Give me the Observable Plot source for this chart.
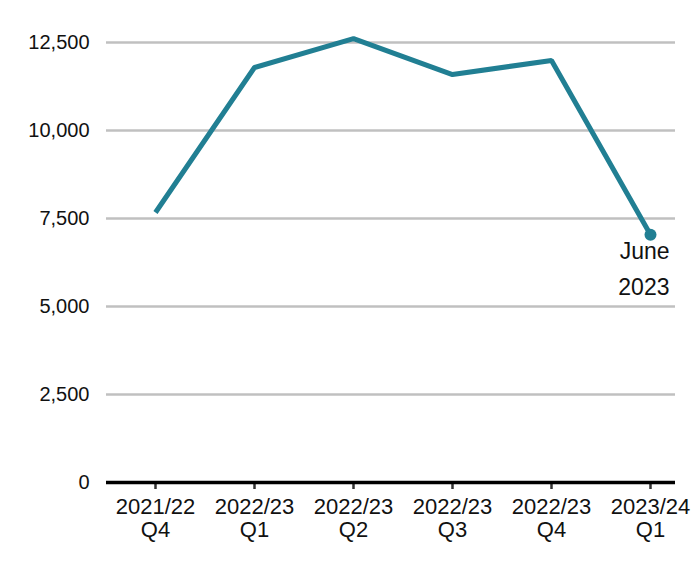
<!DOCTYPE html>
<html>
<head>
<meta charset="utf-8">
<script src="https://cdn.jsdelivr.net/npm/d3@7"></script>
<script src="https://cdn.jsdelivr.net/npm/@observablehq/plot@0.6"></script>
<style>
  html, body { margin: 0; padding: 0; background: #fff; }
  #chart svg { display: block; }
</style>
</head>
<body>
<div id="chart"></div>
<script>
const quarters = ["2021/22\nQ4", "2022/23\nQ1", "2022/23\nQ2", "2022/23\nQ3", "2022/23\nQ4", "2023/24\nQ1"];
const values = [7670, 11790, 12610, 11590, 11990, 7040];
const yTicks = [0, 2500, 5000, 7500, 10000, 12500];
const endLabel = "June\n2023";

const data = quarters.map((q, i) => ({quarter: q, value: values[i]}));
const last = data[data.length - 1];
const teal = "#217f93";

const chart = Plot.plot({
  width: 700,
  height: 566,
  marginLeft: 106,
  marginRight: 25,
  marginTop: 42,
  marginBottom: 84,
  insetLeft: 48,
  insetRight: 25,
  style: {fontFamily: "'Liberation Sans', Arial, sans-serif", fontSize: "20px", color: "#111", background: "#fff"},
  x: {type: "point", domain: quarters, padding: 0, label: null},
  y: {domain: [0, 12500], label: null},
  marks: [
    Plot.gridY(yTicks, {stroke: "#c0c0c0", strokeOpacity: 1, strokeWidth: 2.5}),
    Plot.axisY(yTicks, {tickSize: 0, tickPadding: 17, label: null, tickFormat: d3.format(","), fontSize: 20}),
    Plot.axisX({tickSize: 7, tickPadding: 8, stroke: "#333", strokeWidth: 2.5, label: null, lineHeight: 1.05, fontSize: 22, tickFormat: d => d}),
    Plot.ruleY([0], {stroke: "#000", strokeWidth: 3.5}),
    Plot.line(data, {x: "quarter", y: "value", stroke: teal, strokeWidth: 5, strokeLinejoin: "miter", strokeLinecap: "butt"}),
    Plot.dot([last], {x: "quarter", y: "value", r: 6, fill: teal}),
    Plot.text([last], {x: "quarter", y: "value", text: () => endLabel, textAnchor: "end", lineAnchor: "top", dx: 19, dy: -1, lineHeight: 1.56, fontSize: 23, fill: "#111"})
  ]
});
document.getElementById("chart").appendChild(chart);
</script>
</body>
</html>
